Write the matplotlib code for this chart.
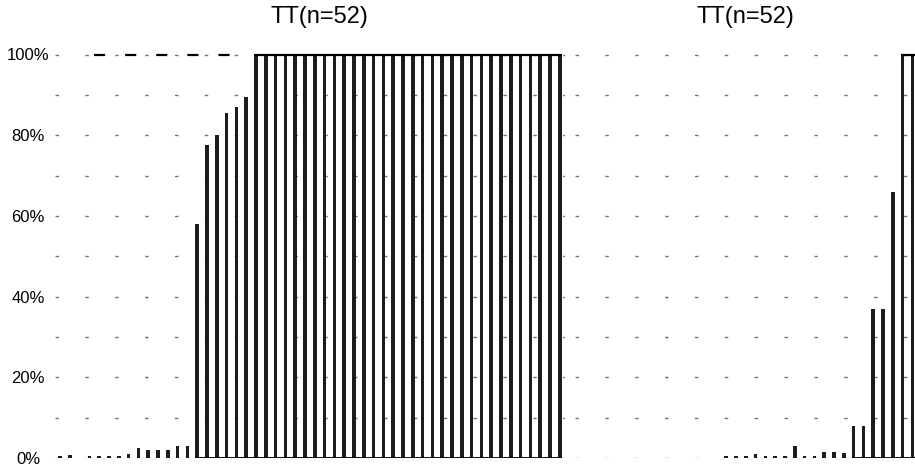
import numpy as np
import matplotlib.pyplot as plt

# bar values (%) for the two panels, 52 samples each
left_vals = [0.5, 0.7, 0, 0.5, 0.5, 0.5, 0.5, 1, 2.5, 2, 2, 2, 3, 3,
             58, 77.5, 80, 85.5, 87, 89.5] + [100] * 32
right_vals = [0] * 24 + [0.5, 0.5, 0.5, 1, 0.5, 0.5, 0.5, 3, 0.5, 0.5, 1.5, 1.5, 1.2] \
             + [8, 8, 37, 37, 66] + [100] * 10
titles = ["TT(n=52)", "TT(n=52)"]
yticks = [0, 20, 40, 60, 80, 100]
ytick_labels = ["0%", "20%", "40%", "60%", "80%", "100%"]

W, H = 915, 471
fig = plt.figure(figsize=(W / 100, H / 100), dpi=100)

step = 9.8      # pixels per bar slot
y0 = 13
ppp = 4.035     # pixels per percent
ymax = 103

# left panel: bar i centred at 60 + step*i
ax1 = fig.add_axes([55.1 / W, y0 / H, 52 * step / W, ymax * ppp / H])
ax1.set_xlim(-0.5, 51.5)
# right panel runs off the page; bar i centred at 491 + step*i
r_left, r_right = 575, 995
ax2 = fig.add_axes([r_left / W, y0 / H, (r_right - r_left) / W, ymax * ppp / H])
ax2.set_xlim((r_left - 491) / step, (r_right - 491) / step)

title_x = [(319 - 55.1) / (52 * step), (745 - r_left) / (r_right - r_left)]

for ax, vals, title, tx in zip([ax1, ax2], [left_vals, right_vals], titles, title_x):
    vals = np.array(vals)
    x = np.arange(len(vals))
    ax.bar(x, vals, width=0.38, color="#1c1c1c", zorder=3)
    ax.set_ylim(0, ymax)
    ax.set_facecolor("none")
    for s in ax.spines.values():
        s.set_visible(False)
    ax.set_xticks([])
    ax.set_yticks(yticks)
    ax.set_yticks(np.arange(10, 100, 10), minor=True)
    ax.tick_params(axis="y", which="both", length=0)
    ax.grid(axis="y", which="both", color="black", linestyle=(0, (2.5, 19)),
            linewidth=1.0, alpha=0.55, zorder=1)
    # solid base and top where the bars stand
    big = np.where(vals >= 5)[0]
    ax.hlines(0, big[0] - 0.2, len(vals) - 0.8, color="black", linewidth=1.3, zorder=4)
    full = np.where(vals >= 100)[0]
    ax.hlines(100, full[0] - 0.2, len(vals) - 0.8, color="black", linewidth=1.6, zorder=4)
    ax.set_title(title, x=tx, pad=14, fontsize=17,
                 family=["Liberation Sans", "DejaVu Sans"])

ax1.hlines(100, 3.5, 17.5, color="black", linestyle=(0, (5, 9)), linewidth=1.6, zorder=4)
ax1.set_yticklabels(ytick_labels, family=["Liberation Sans", "DejaVu Sans"],
                    fontsize=12)
for lbl in ax1.get_yticklabels():
    lbl.set_ha("center")
ax1.tick_params(axis="y", pad=19.5)
ax2.set_yticklabels([])

plt.savefig("out.png", dpi=100)
